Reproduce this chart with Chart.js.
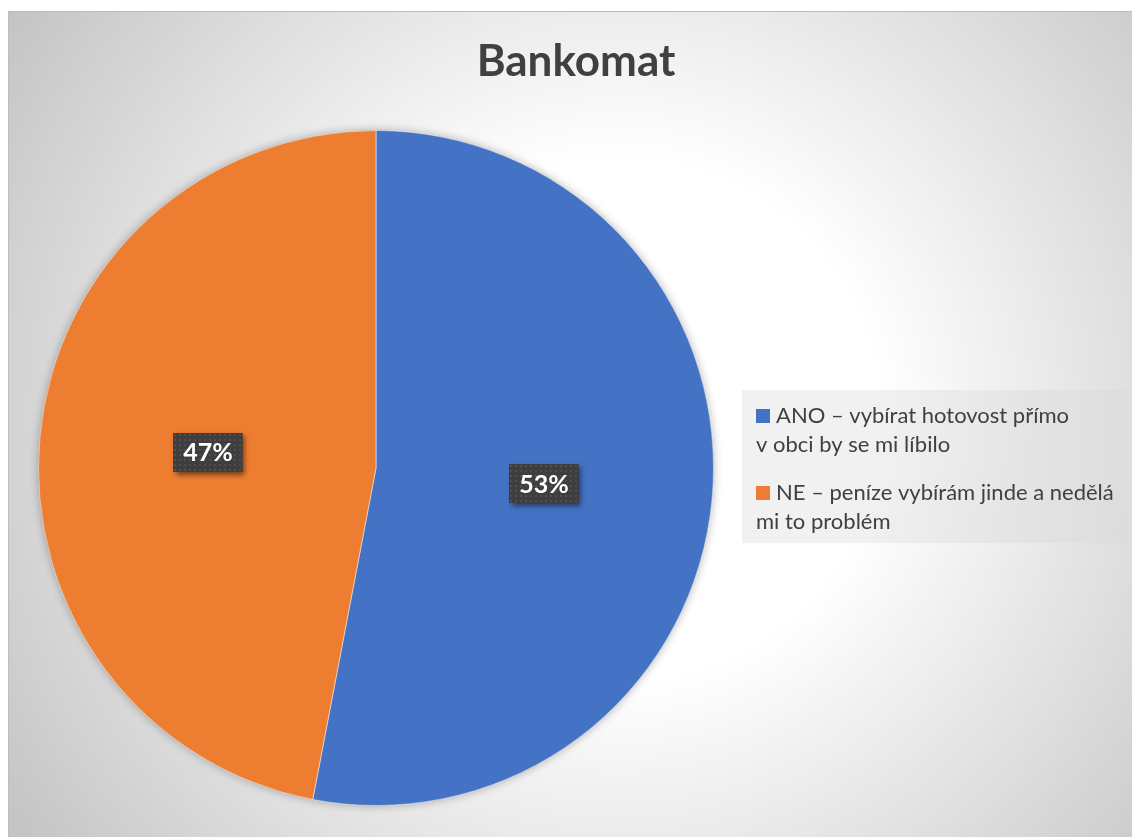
<!DOCTYPE html>
<html>
<head>
<meta charset="utf-8">
<title>Bankomat</title>
<script src="https://cdn.jsdelivr.net/npm/chart.js@4"></script>
<style>
  html, body { margin: 0; padding: 0; background: #fff; }
  canvas { display: block; }
</style>
</head>
<body>
<canvas id="pieChart" width="1132" height="837"></canvas>
<script>
// Data
const chartTitle = 'Bankomat';
const categories = [
  'ANO – vybírat hotovost přímo v obci by se mi líbilo',
  'NE – peníze vybírám jinde a nedělá mi to problém'
];
const legendLines = [
  ['ANO – vybírat hotovost přímo', 'v obci by se mi líbilo'],
  ['NE – peníze vybírám jinde a nedělá', 'mi to problém']
];
const shares = [53, 47];
const sliceColors = ['#4472C4', '#ED7D31'];

const FONT = 'Lato, "Open Sans", sans-serif';
const TEXT_COLOR = '#404040';

// small dotted tile for the label boxes
function makePattern(ctx) {
  const tile = document.createElement('canvas');
  tile.width = 5;
  tile.height = 5;
  const t = tile.getContext('2d');
  t.fillStyle = '#3e3e3e';
  t.fillRect(0, 0, 5, 5);
  t.fillStyle = '#4f4f4f';
  t.fillRect(1, 1, 2, 2);
  return ctx.createPattern(tile, 'repeat');
}

const backgroundPlugin = {
  id: 'chartBackground',
  beforeDraw(chart) {
    const { ctx, width, height } = chart;
    ctx.save();
    ctx.fillStyle = '#fff';
    ctx.fillRect(0, 0, width, height);
    const g = ctx.createRadialGradient(620, 420, 0, 620, 420, 740);
    g.addColorStop(0, '#ffffff');
    g.addColorStop(0.35, '#ffffff');
    g.addColorStop(1, '#c3c3c3');
    ctx.fillStyle = g;
    ctx.fillRect(8, 11, width - 8, height - 11);
    ctx.strokeStyle = '#bdbdbd';
    ctx.lineWidth = 1;
    ctx.strokeRect(8.5, 11.5, width, height);

    // title
    ctx.fillStyle = TEXT_COLOR;
    ctx.font = 'bold 44px ' + FONT;
    ctx.textAlign = 'center';
    ctx.textBaseline = 'alphabetic';
    ctx.fillText(chartTitle, 576, 76);
    ctx.restore();
  },
  beforeDatasetsDraw(chart) {
    // soft shadow under the pie
    const arc = chart.getDatasetMeta(0).data[0];
    if (!arc) return;
    const { ctx } = chart;
    ctx.save();
    ctx.shadowColor = 'rgba(0,0,0,0.3)';
    ctx.shadowBlur = 10;
    ctx.beginPath();
    ctx.arc(arc.x, arc.y, arc.outerRadius, 0, Math.PI * 2);
    ctx.fillStyle = '#888';
    ctx.fill();
    ctx.restore();
  }
};

const labelPlugin = {
  id: 'percentLabels',
  afterDatasetsDraw(chart) {
    const { ctx } = chart;
    const pattern = makePattern(ctx);
    const meta = chart.getDatasetMeta(0);
    meta.data.forEach((arc, i) => {
      const p = arc.tooltipPosition();
      const text = shares[i] + '%';
      ctx.save();
      ctx.font = 'bold 25px ' + FONT;
      const w = ctx.measureText(text).width + 20;
      const h = 39;
      const x = Math.round(p.x - w / 2);
      const y = Math.round(p.y - h / 2);
      ctx.shadowColor = 'rgba(0,0,0,0.5)';
      ctx.shadowBlur = 5;
      ctx.shadowOffsetX = 3;
      ctx.shadowOffsetY = 3;
      ctx.fillStyle = '#3e3e3e';
      ctx.fillRect(x, y, w, h);
      ctx.restore();
      ctx.save();
      ctx.fillStyle = pattern;
      ctx.translate(x, y);
      ctx.fillRect(0, 0, w, h);
      ctx.restore();
      ctx.save();
      ctx.font = 'bold 25px ' + FONT;
      ctx.fillStyle = '#fff';
      ctx.textAlign = 'center';
      ctx.textBaseline = 'middle';
      ctx.fillText(text, p.x, p.y + 1);
      ctx.restore();
    });
  }
};

const legendPlugin = {
  id: 'sideLegend',
  afterDraw(chart) {
    const { ctx } = chart;
    ctx.save();
    ctx.fillStyle = 'rgba(215,215,215,0.35)';
    ctx.fillRect(742, 390, 385, 153);
    ctx.font = '22px ' + FONT;
    ctx.textBaseline = 'middle';
    ctx.textAlign = 'left';
    const firstLineY = [416, 493];
    const lineGap = 29;
    legendLines.forEach((lines, i) => {
      const y0 = firstLineY[i];
      ctx.fillStyle = sliceColors[i];
      ctx.fillRect(756, y0 - 7, 14, 14);
      ctx.fillStyle = TEXT_COLOR;
      lines.forEach((line, j) => {
        ctx.fillText(line, j === 0 ? 776 : 756, y0 + j * lineGap);
      });
    });
    ctx.restore();
  }
};

const chart = new Chart(document.getElementById('pieChart'), {
  type: 'pie',
  data: {
    labels: categories,
    datasets: [{
      data: shares,
      backgroundColor: sliceColors,
      borderColor: 'rgba(255,255,255,0.5)',
      borderWidth: 1
    }]
  },
  options: {
    responsive: false,
    animation: false,
    layout: { padding: { left: 38, right: 418, top: 130, bottom: 31 } },
    plugins: {
      legend: { display: false },
      title: { display: false },
      tooltip: { enabled: false }
    }
  },
  plugins: [backgroundPlugin, labelPlugin, legendPlugin]
});
</script>
</body>
</html>
